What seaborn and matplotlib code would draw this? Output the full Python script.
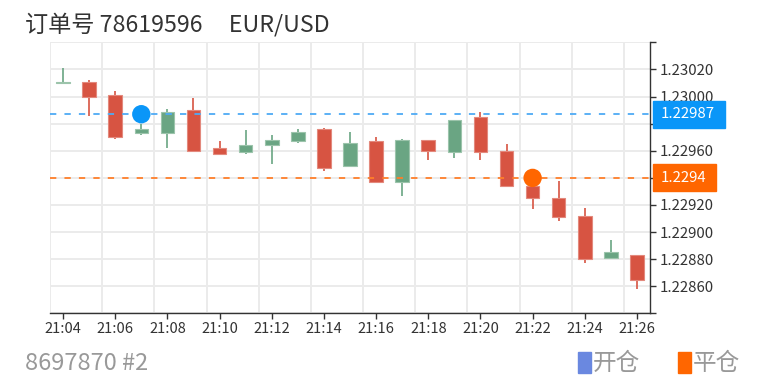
import numpy as np
import pandas as pd
import matplotlib
matplotlib.use('Agg')
import matplotlib.pyplot as plt
import matplotlib.transforms as mtransforms
from matplotlib.patches import Rectangle
import seaborn as sns

# --- data ---
times = ['21:04', '21:05', '21:06', '21:07', '21:08', '21:09', '21:10', '21:11',
         '21:12', '21:13', '21:14', '21:15', '21:16', '21:17', '21:18', '21:19',
         '21:20', '21:21', '21:22', '21:23', '21:24', '21:25', '21:26']
opens = [1.23010, 1.23011, 1.23001, 1.22973, 1.22973, 1.22990, 1.22962, 1.22959,
         1.22964, 1.22967, 1.22976, 1.22949, 1.22967, 1.22937, 1.22968, 1.22959,
         1.22985, 1.22960, 1.22934, 1.22925, 1.22912, 1.22881, 1.22883]
closes = [1.23011, 1.23000, 1.22970, 1.22976, 1.22989, 1.22960, 1.22958, 1.22964,
          1.22968, 1.22974, 1.22947, 1.22966, 1.22937, 1.22968, 1.22960, 1.22983,
          1.22959, 1.22934, 1.22925, 1.22911, 1.22880, 1.22885, 1.22865]
highs = [1.23021, 1.23012, 1.23004, 1.22980, 1.22991, 1.22999, 1.22967, 1.22975,
         1.22972, 1.22976, 1.22977, 1.22974, 1.22970, 1.22969, 1.22968, 1.22983,
         1.22989, 1.22965, 1.22940, 1.22938, 1.22918, 1.22894, 1.22883]
lows = [1.23009, 1.22986, 1.22969, 1.22972, 1.22962, 1.22960, 1.22958, 1.22958,
        1.22950, 1.22966, 1.22945, 1.22949, 1.22936, 1.22927, 1.22953, 1.22955,
        1.22953, 1.22934, 1.22917, 1.22908, 1.22877, 1.22880, 1.22858]

open_price = 1.22987
close_price = 1.2294
open_time = '21:07'
close_time = '21:22'

order_title = '订单号 78619596     EUR/USD'
footer_text = '8697870 #2'
legend_labels = ['开仓', '平仓']

UP = '#6aa583'
DOWN = '#d75442'
BLUE = '#0a96f8'
ORANGE = '#ff6600'

df = pd.DataFrame({'time': times, 'open': opens, 'close': closes,
                   'high': highs, 'low': lows})
df['x'] = np.arange(len(df))
df['up'] = df['close'] >= df['open']

sns.set_theme(style='white')
plt.rcParams['font.family'] = ['Noto Sans CJK SC', 'DejaVu Sans']

W, H = 775, 387
fig = plt.figure(figsize=(W / 100, H / 100), dpi=100)
ax = fig.add_axes([50 / W, 1 - 313.4 / H, 600 / W, 271 / H])

# grid
ax.set_ylim(1.2284, 1.2304)
yticks = np.round(np.arange(1.2284, 1.23041, 0.0002), 5)
ax.set_yticks(yticks)
ylabels = []
for v in yticks:
    if v < 1.22859 or v > 1.23021 or abs(v - 1.2294) < 1e-7 or abs(v - 1.2298) < 1e-7:
        ylabels.append('')
    else:
        ylabels.append(f'{v:.5f}')
ax.set_yticklabels(ylabels)
ax.yaxis.grid(True, color='#ebebeb', lw=1.4, zorder=0)
for b in np.arange(-0.5, len(df) - 1, 2):
    ax.axvline(b, color='#ebebeb', lw=1.4, zorder=0)

# candles: wicks then bodies
for up, color, edge in [(True, UP, '#9cc4ab'), (False, DOWN, '#e3897d')]:
    sub = df[df['up'] == up]
    ax.vlines(sub['x'], sub['low'], sub['high'], color=color, lw=1.2, zorder=2)
    bottom = sub[['open', 'close']].min(axis=1)
    height = (sub['close'] - sub['open']).abs()
    ax.bar(sub['x'], height, bottom=bottom, width=0.52, color=color,
           edgecolor=edge, linewidth=0.8, zorder=3)

# position price lines
ax.axhline(open_price, color='#4eaaf5', lw=1.3, ls=(0, (3.5, 4.5)), zorder=4)
ax.axhline(close_price, color='#ff7f2a', lw=1.3, ls=(0, (3.5, 4.5)), zorder=4)

marks = pd.DataFrame({'x': [times.index(open_time), times.index(close_time)],
                      'price': [open_price, close_price],
                      'kind': legend_labels})
sns.scatterplot(data=marks, x='x', y='price', hue='kind',
                palette=[BLUE, ORANGE], s=175, edgecolor='none',
                legend=False, ax=ax, zorder=6)

# price tags on the right axis
trans = mtransforms.blended_transform_factory(ax.transAxes, ax.transData)
for price, txt, color, width in [(open_price, '1.22987', BLUE, 72),
                                 (close_price, '1.2294', ORANGE, 63)]:
    ax.add_patch(Rectangle((1.005, price - 0.0001), width / 600, 0.0002,
                           transform=trans, color=color, clip_on=False, zorder=7))
    ax.text(1.005 + 8 / 600, price, txt, transform=trans, color='white',
            fontsize=10.8, va='center', ha='left', zorder=8, clip_on=False)

ax.set_xlim(-0.5, len(df) - 0.5)
ax.set_xticks(df['x'][::2])
ax.set_xticklabels(df['time'][::2])
ax.set_xlabel('')
ax.set_ylabel('')
ax.yaxis.tick_right()
ax.tick_params(axis='y', right=True, left=False, length=4, width=1,
               color='#333333', labelcolor='#333333', labelsize=10.8, pad=3)
ax.tick_params(axis='x', bottom=True, length=4, width=1,
               color='#333333', labelcolor='#333333', labelsize=10.6, pad=2)
for side in ['left', 'top']:
    ax.spines[side].set_visible(False)
for side in ['right', 'bottom']:
    ax.spines[side].set_color('#333333')
    ax.spines[side].set_linewidth(1)

# title, footer and legend
fig.text(25 / W, 1 - 25 / H, order_title, fontsize=16.7, color='#333333',
         va='center', ha='left')
fig.text(25 / W, 1 - 363 / H, footer_text, fontsize=17, color='#999999',
         va='center', ha='left')
for lx, tx, color, lab in [(578, 593, '#6a88e0', legend_labels[0]),
                           (678, 693, ORANGE, legend_labels[1])]:
    fig.add_artist(Rectangle((lx / W, 1 - 373 / H), 13 / W, 21 / H,
                             transform=fig.transFigure, color=color))
    fig.text(tx / W, 1 - 363 / H, lab, fontsize=17, color='#999999',
             va='center', ha='left')

fig.savefig('out.png', dpi=100)
